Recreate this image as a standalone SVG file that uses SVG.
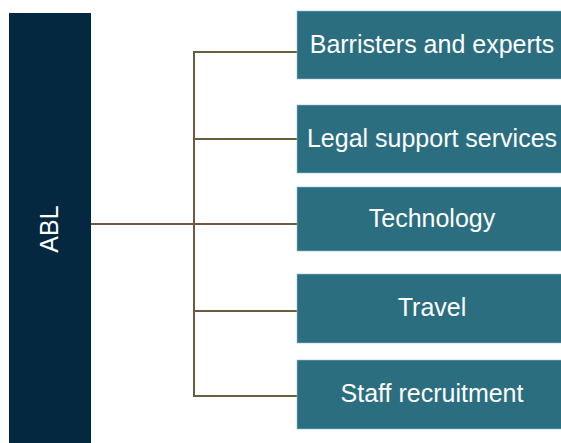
<svg xmlns="http://www.w3.org/2000/svg" width="561" height="443" viewBox="0 0 561 443">
<style>
.box{fill:#2A6E80;stroke:#9FC0C8;stroke-width:0.6}
.lbl{font-family:"Liberation Sans",Arial,sans-serif;font-size:25px;fill:#FFFFFF;text-anchor:middle}
.conn{stroke:#6E5B3E;stroke-width:2;fill:none}
</style>
<rect width="561" height="443" fill="#FFFFFF"/>
<g id="connectors">
<line class="conn" x1="91" y1="224" x2="297" y2="224"/>
<line class="conn" x1="194" y1="52" x2="194" y2="396"/>
<line class="conn" x1="193" y1="52" x2="297" y2="52"/>
<line class="conn" x1="193" y1="139" x2="297" y2="139"/>
<line class="conn" x1="193" y1="311" x2="297" y2="311"/>
<line class="conn" x1="193" y1="396" x2="297" y2="396"/>
</g>
<g id="abl">
<rect x="9" y="13" width="82" height="431" fill="#04283F"/>
<text class="lbl" transform="translate(58,229) rotate(-90)" x="0" y="0">ABL</text>
</g>
<g id="barristers">
<rect class="box" x="297" y="11" width="266" height="68"/>
<text class="lbl" x="432" y="53">Barristers and experts</text>
</g>
<g id="legal">
<rect class="box" x="297" y="105" width="266" height="68"/>
<text class="lbl" x="432" y="147">Legal support services</text>
</g>
<g id="technology">
<rect class="box" x="297" y="187" width="266" height="64"/>
<text class="lbl" x="432" y="227">Technology</text>
</g>
<g id="travel">
<rect class="box" x="297" y="274" width="266" height="69"/>
<text class="lbl" x="432" y="316">Travel</text>
</g>
<g id="staff">
<rect class="box" x="297" y="360" width="266" height="69"/>
<text class="lbl" x="432" y="402">Staff recruitment</text>
</g>
</svg>
